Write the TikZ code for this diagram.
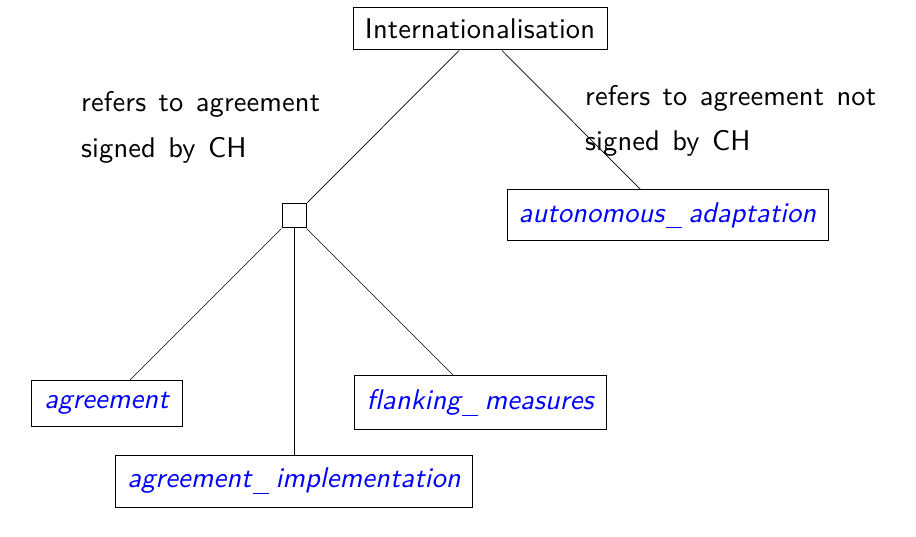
\documentclass[tikz,border=0pt]{standalone}
\usepackage{fontspec}
\usetikzlibrary{calc}
\newfontfamily\lmsx{lmsans10-regular}[Extension=.otf, ItalicFont=lmsans10-oblique, LetterSpace=0.4, WordSpace=1.3]
\newcommand{\lbl}{\lmsx\fontsize{28.5}{34}\selectfont}
\newcommand{\us}{\kern1.5pt\rule[-6pt]{16pt}{0.9pt}\kern6.5pt}
\begin{document}
\begin{tikzpicture}[x=1pt,y=-1pt,
  box/.style={draw, line width=1pt, inner sep=0pt, font=\lbl},
  term/.style={box, text=blue, font=\lbl\itshape},
  link/.style={line width=0.7pt},
  note/.style={inner sep=0pt, anchor=base west, font=\lbl}]
\useasboundingbox (0,0) rectangle (916,537);
\node[box, minimum width=254pt, minimum height=42pt] (intl) at (480,29) {Internationalisation};
\node[draw, line width=1pt, minimum size=24pt, inner sep=0pt] (junc) at (294,216) {};
\node[term, minimum width=321pt, minimum height=51pt] (auto) at (667.5,215.5) {autonomous\us adaptation};
\node[term, minimum width=151pt, minimum height=45pt] (agr) at (106.5,403.5) {agreement};
\node[term, minimum width=357pt, minimum height=52pt] (impl) at (294,481) {agreement\us implementation};
\node[term, minimum width=252pt, minimum height=53pt] (flank) at (480,402.5) {flanking\us measures};
\draw[link] ($(intl.south)+(-21,0)$) -- (junc.north east);
\draw[link] ($(intl.south)+(22,0)$) -- ($(auto.north west)+(134,0)$);
\draw[link] (junc.south west) -- ($(agr.north west)+(99,0)$);
\draw[link] (junc.south) -- (impl.north);
\draw[link] (junc.south east) -- ($(flank.north west)+(100,0)$);
\node[note] (l1) at (81,112) {refers to agreement};
\node[note] (l2) at (81,158) {signed by CH};
\node[note] (r1) at (585,106) {refers to agreement not};
\node[note] (r2) at (585,151) {signed by CH};
\end{tikzpicture}
\end{document}
